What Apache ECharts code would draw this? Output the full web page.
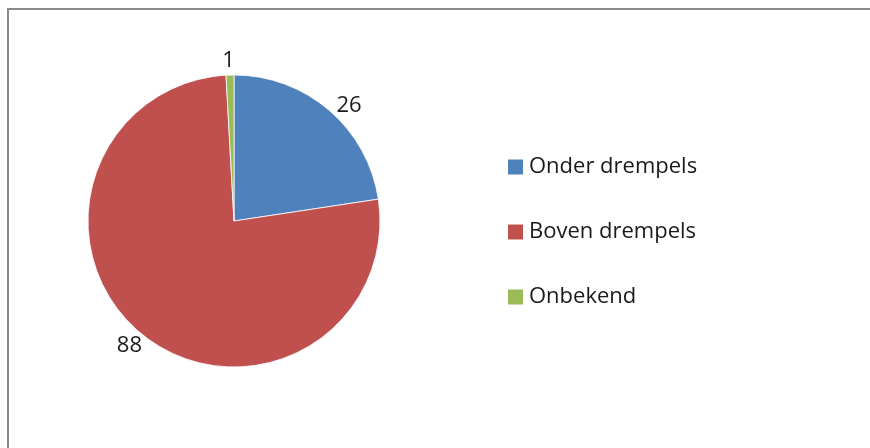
<!DOCTYPE html>
<html><head><meta charset="utf-8">
<script src="https://cdn.jsdelivr.net/npm/echarts@6/dist/echarts.min.js"></script>
<style>html,body{margin:0;padding:0;background:#fff}#c{width:870px;height:448px}</style>
</head><body><div id="c"></div>
<script>
var categories = ['Onder drempels', 'Boven drempels', 'Onbekend'];
var values = [26, 88, 1];
var colors = ['#4F81BD', '#C0504D', '#9BBB59'];

var FONT = 'Open Sans';
var chart = echarts.init(document.getElementById('c'), null, {renderer: 'canvas'});
var data = categories.map(function (c, i) { return {name: c, value: values[i], itemStyle: {color: colors[i]}}; });
var labelData = categories.map(function (c, i) {
  var d = {name: c, value: values[i]};
  if (i === 0) d.label = {offset: [10, 7]};
  if (i === 1) d.label = {offset: [-3, 0]};
  if (i === 2) d.label = {offset: [-1, 1]};
  return d;
});

chart.setOption({
  animation: false,
  graphic: [{
    type: 'rect', shape: {x: 8, y: 9, width: 880, height: 460},
    style: {fill: 'none', stroke: '#8a8a8a', lineWidth: 2}, silent: true, z: -10
  }],
  legend: {
    orient: 'vertical', left: 508, top: 156, padding: 0,
    itemWidth: 15, itemHeight: 15, itemGap: 43,
    icon: 'rect',
    itemStyle: {borderWidth: 0},
    textStyle: {fontFamily: FONT, fontSize: 22, color: '#1a1a1a', lineHeight: 20, padding: [0, 0, 0, 1]},
    data: categories.map(function (c, i) { return {name: c, itemStyle: {color: colors[i], borderWidth: 0}}; }),
    selectedMode: false
  },
  series: [{
    type: 'pie', center: [234, 221], radius: [0, 146],
    startAngle: 90, clockwise: true,
    label: {show: false}, labelLine: {show: false},
    itemStyle: {borderColor: '#ffffff', borderWidth: 0.8},
    emphasis: {disabled: true},
    data: data
  }, {
    type: 'pie', center: [234, 221], radius: [150, 166],
    startAngle: 90, clockwise: true, silent: true,
    itemStyle: {color: 'rgba(0,0,0,0)'},
    label: {show: true, position: 'inside', formatter: '{c}', fontFamily: FONT, fontSize: 22, color: '#1a1a1a'},
    labelLine: {show: false},
    emphasis: {disabled: true},
    data: labelData
  }]
});
</script></body></html>
